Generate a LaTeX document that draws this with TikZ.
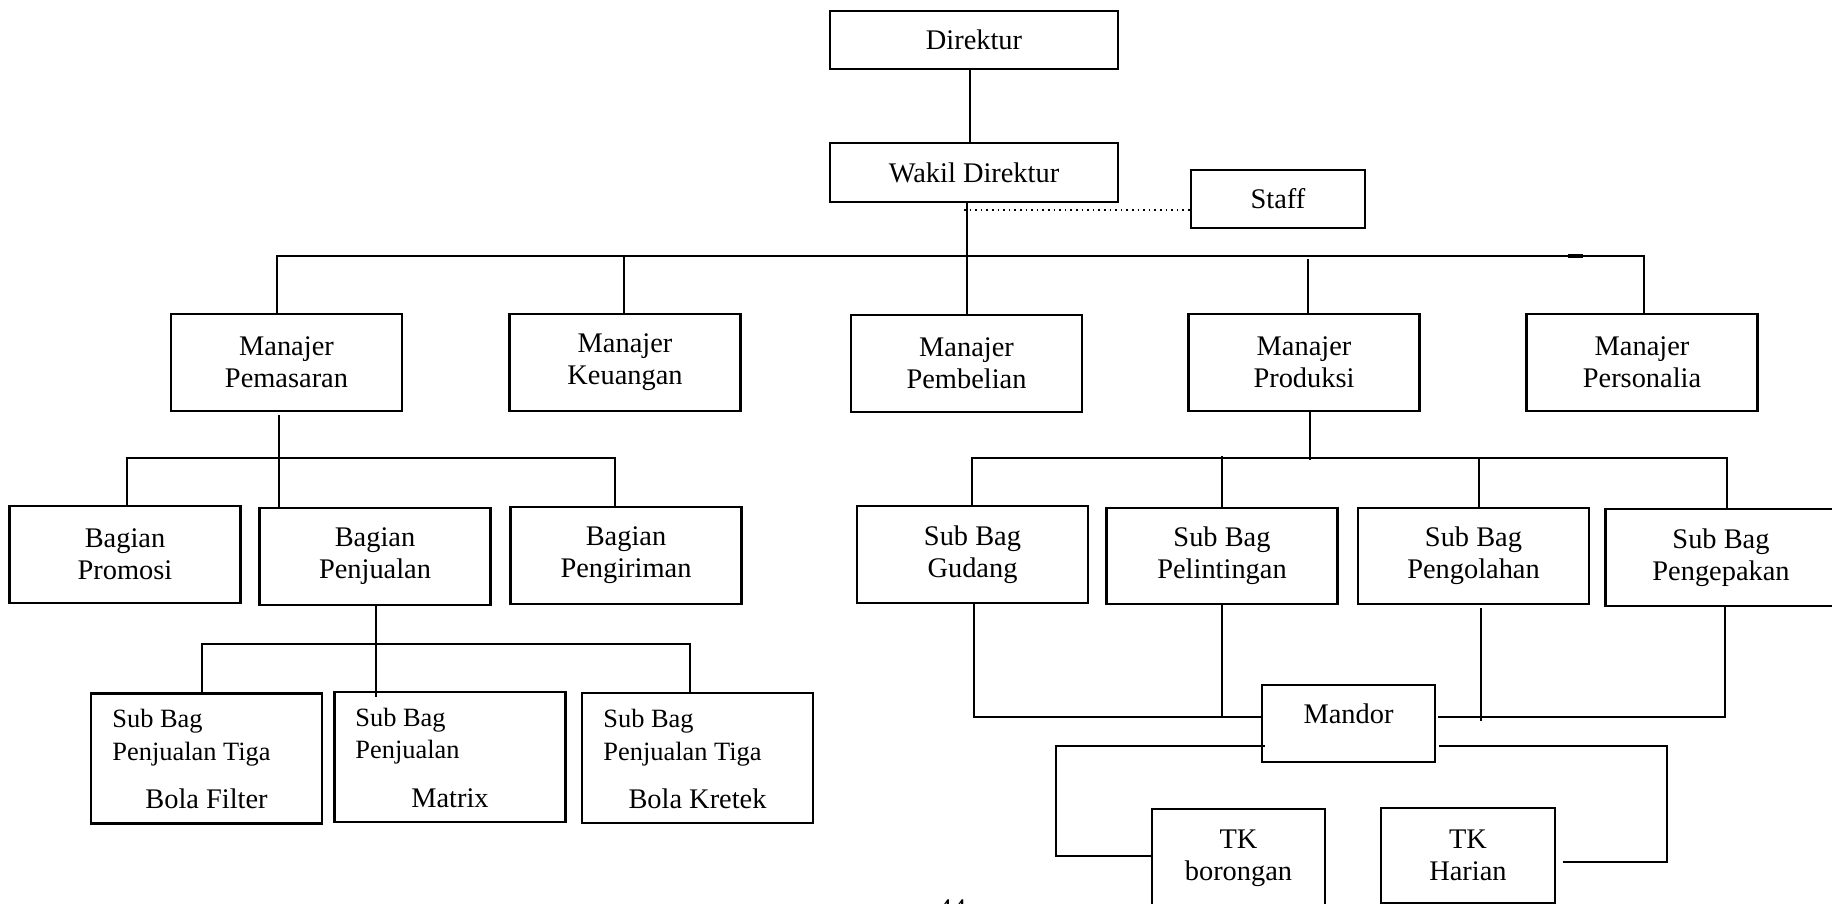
\documentclass[tikz,border=0pt]{standalone}
\usepackage{fontspec}
\setmainfont{Liberation Serif}
\begin{document}
\begin{tikzpicture}[x=0.5pt,y=-0.5pt,
  box/.style={draw, line width=1.2pt, inner sep=0pt, align=center, font=\fontsize{14.2}{16}\selectfont},
  mgr/.style={box, minimum width=115.5pt, minimum height=48.5pt},
  sbbox/.style={draw, line width=1.2pt, inner sep=0pt, minimum width=115.5pt, minimum height=65pt},
  subtxt/.style={inner sep=0pt, font=\fontsize{13.2}{15}\selectfont},
  bigtxt/.style={inner sep=0pt, font=\fontsize{14.2}{16}\selectfont},
  ln/.style={line width=1pt}]
\useasboundingbox (0,0) rectangle (1832,904);
% top
\node[box, minimum width=144pt, minimum height=29pt] (dir) at (974,40) {Direktur};
\node[box, minimum width=144pt, minimum height=29.5pt] (wakil) at (974,172.5) {Wakil Direktur};
\node[box, minimum width=87pt, minimum height=29pt] (staff) at (1278,199) {Staff};
% managers
\node[mgr] (pemasaran) at (286.5,362.5) {Manajer\\Pemasaran};
\node[mgr] (keuangan) at (625,362.5) {Manajer\\Keuangan};
\node[mgr] (pembelian) at (966.5,363.5) {Manajer\\Pembelian};
\node[mgr] (produksi) at (1304,362.5) {Manajer\\Produksi};
\node[mgr] (personalia) at (1642,362.5) {Manajer\\Personalia};
% bagian
\node[mgr] (promosi) at (125,554.5) {Bagian\\Promosi};
\node[mgr] (penjualan) at (375,556.5) {Bagian\\Penjualan};
\node[mgr] (pengiriman) at (626,555.5) {Bagian\\Pengiriman};
% sub bag produksi
\node[mgr] (gudang) at (972.5,554.5) {Sub Bag\\Gudang};
\node[mgr, minimum height=48pt] (pelintingan) at (1222,556) {Sub Bag\\Pelintingan};
\node[mgr, minimum height=48pt] (pengolahan) at (1473.5,556) {Sub Bag\\Pengolahan};
\node[mgr] (pengepakan) at (1721,557.5) {Sub Bag\\Pengepakan};
% sub bag penjualan
\node[sbbox] (sbfilter) at (206.5,758.5) {};
\node[sbbox] (sbmatrix) at (450,757) {};
\node[sbbox] (sbkretek) at (697.5,758) {};
\node[subtxt, anchor=base west] (f1) at (112,727) {Sub Bag};
\node[subtxt, anchor=base west] (f2) at (112,760) {Penjualan Tiga};
\node[bigtxt, anchor=base] (f3) at (206.5,808) {Bola Filter};
\node[subtxt, anchor=base west] (m1) at (355,726) {Sub Bag};
\node[subtxt, anchor=base west] (m2) at (355,758) {Penjualan};
\node[bigtxt, anchor=base] (m3) at (450,807) {Matrix};
\node[subtxt, anchor=base west] (k1) at (603,727) {Sub Bag};
\node[subtxt, anchor=base west] (k2) at (603,760) {Penjualan Tiga};
\node[bigtxt, anchor=base] (k3) at (697.5,808) {Bola Kretek};
% mandor and TK
\node[box, minimum width=86.5pt, minimum height=38.5pt, text height=10pt, text depth=10pt] (mandor) at (1348.5,723.5) {Mandor};
\node[box, minimum width=86.5pt, minimum height=49pt] (tkb) at (1238.5,858) {TK\\borongan};
\node[box, minimum width=87pt, minimum height=47.5pt] (tkh) at (1468,855.5) {TK\\Harian};
\node[bigtxt, anchor=base] (pg) at (952,918) {44};
% connectors top
\draw[ln] ([xshift=-2pt]dir.south) -- ([xshift=-2pt]wakil.north);
\draw[ln] (wakil.south -| pembelian.north) -- (pembelian.north);
\coordinate (dotL) at (964,210);
\draw[dotted, line width=0.8pt] (dotL) -- (dotL -| staff.west);
\coordinate (busL) at (277,256);
\coordinate (busR) at (1644,256);
\draw[ln] (busL |- pemasaran.north) -- (busL) -- (busR) -- (busR |- personalia.north);
\draw[ln] ([xshift=-0.5pt]keuangan.north) -- ([xshift=-0.5pt]keuangan.north |- busL);
\draw[ln] ([xshift=2pt]produksi.north) -- ([xshift=2pt,yshift=-1.5pt]produksi.north |- busL);
\coordinate (mk1) at (1568,256);
\coordinate (mk2) at (1583,256);
\draw[line width=1.8pt] (mk1) -- (mk2);
% pemasaran subtree
\coordinate (pmL) at (127,458);
\coordinate (pmR) at (615,458);
\draw[ln] ([xshift=-3.75pt,yshift=-1.5pt]pemasaran.south) -- ([xshift=-3.75pt]pemasaran.south |- penjualan.north);
\draw[ln] (pmL |- promosi.north) -- (pmL) -- (pmR) -- (pmR |- pengiriman.north);
% penjualan subtree
\coordinate (pjL) at (202,644);
\coordinate (pjR) at (690,644);
\draw[ln] ([xshift=0.5pt]penjualan.south) -- ([xshift=0.5pt,yshift=-3pt]penjualan.south |- sbmatrix.north);
\draw[ln] (pjL |- sbfilter.north) -- (pjL) -- (pjR) -- (pjR |- sbkretek.north);
% produksi subtree
\coordinate (prL) at (972,458);
\coordinate (prR) at (1727,458);
\draw[ln] ([xshift=3pt]produksi.south) -- ([xshift=3pt,yshift=-1pt]produksi.south |- prL);
\draw[ln] (prL |- gudang.north) -- (prL) -- (prR) -- (prR |- pengepakan.north);
\draw[ln] (pelintingan.north) -- ([yshift=1pt]pelintingan.north |- prL);
\draw[ln] ([xshift=2.75pt]pengolahan.north) -- ([xshift=2.75pt]pengolahan.north |- prL);
% to mandor
\coordinate (mdL) at ([yshift=3.25pt]mandor.west);
\coordinate (mdR) at ([xshift=1pt,yshift=3.25pt]mandor.east);
\draw[ln] ([xshift=0.75pt]gudang.south) |- (mdL);
\draw[ln] (pelintingan.south) -- (pelintingan.south |- mdL);
\draw[ln] (mdR) -| ([xshift=2pt]pengepakan.south);
\draw[ln] ([xshift=3.75pt,yshift=-1.5pt]pengolahan.south) -- ([xshift=3.75pt,yshift=-2pt]pengolahan.south |- mdR);
% mandor to TK
\coordinate (mlL) at ([xshift=2pt,yshift=-11.25pt]mandor.west);
\coordinate (mlR) at ([xshift=1.5pt,yshift=-11.25pt]mandor.east);
\coordinate (tkL) at (1056,746);
\coordinate (tkR) at (1667,746);
\coordinate (tkbw) at ([yshift=1pt]tkb.west);
\coordinate (tkhe) at ([xshift=3.5pt,yshift=-3.25pt]tkh.east);
\draw[ln] (mlL) -- (tkL) |- (tkbw);
\draw[ln] (mlR) -- (tkR) |- (tkhe);
\end{tikzpicture}
\end{document}
